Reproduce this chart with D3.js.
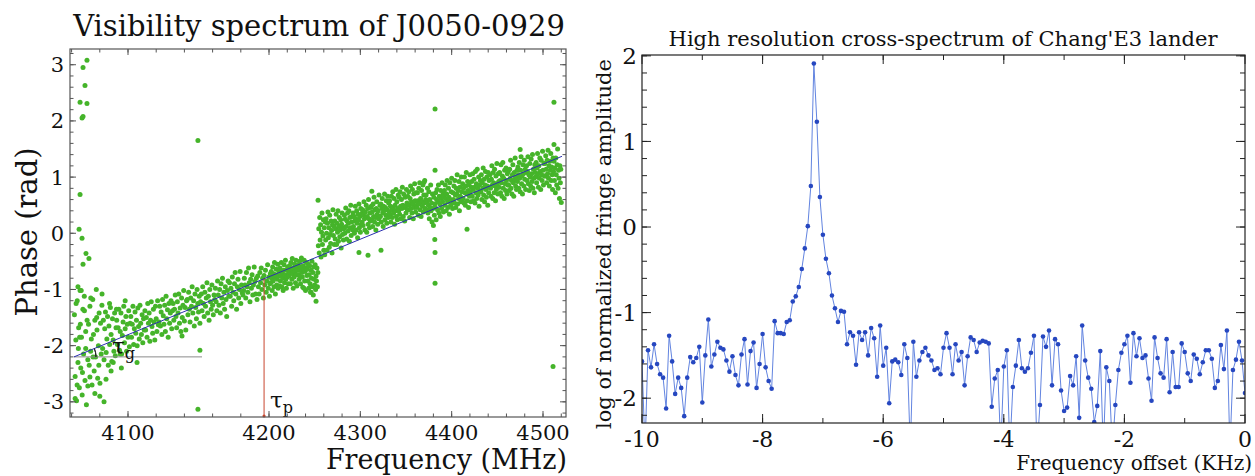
<!DOCTYPE html>
<html>
<head>
<meta charset="utf-8">
<script src="https://cdn.jsdelivr.net/npm/d3@7"></script>
<style>
  body { margin: 0; background: #ffffff; }
  svg { display: block; }
  text { font-family: "DejaVu Serif", serif; fill: #111; }
</style>
</head>
<body>
<div id="container"></div>
<script>
let w = 1255;
let h = 476;

// LEFT PANEL DATA
// visibility phase (rad), one value per 0.5 MHz channel starting at 4062 MHz
let channelStartMHz = 4062;
let channelStepMHz = 0.5;
let phaseRows = [
  [-1.45,-2.55,-1.90,-2.98,-1.20,-2.30,-1.68,-2.75,-1.02,-2.40,-1.85,-2.88,-1.35,-2.15,-1.12,-2.62,-1.75,-3.05,-1.55,-2.25],
  [-1.62,-2.35,-1.30,-2.10,-1.88,-2.70,-1.18,-1.80,-2.45,-1.55,-2.20,-1.00,-1.72,-2.58,-2.00,-1.42,-2.90,-1.60,-2.15,-1.28],
  [-2.05,-1.55,-2.25,-1.70,-1.40,-2.12,-1.88,-1.48,-2.35,-1.65,-1.98,-1.32,-1.80,-2.28,-1.52,-1.90,-2.10,-1.42,-2.18,-1.68],
  [-1.55,-1.98,-1.68,-1.35,-2.08,-1.75,-1.42,-2.15,-1.82,-1.58,-1.30,-1.95,-1.70,-1.48,-2.10,-1.62,-1.85,-1.38,-2.02,-1.60],
  [-1.48,-1.85,-1.62,-1.30,-1.98,-1.70,-1.40,-1.78,-1.55,-2.00,-1.33,-1.66,-1.88,-1.28,-1.60,-1.80,-1.45,-1.95,-1.52,-1.72],
  [-1.38,-1.72,-1.50,-1.85,-1.25,-1.60,-1.42,-1.92,-1.55,-1.22,-1.66,-1.78,-1.35,-1.58,-1.90,-1.30,-1.52,-1.75,-1.20,-1.63],
  [-1.58,-1.30,-1.65,-1.40,-1.80,-1.18,-1.47,-1.62,-1.28,-1.75,-1.12,-1.52,-1.36,-1.85,-1.25,-1.60,-1.42,-1.20,-1.70,-1.38],
  [-1.25,-1.55,-1.35,-1.10,-1.48,-1.68,-1.22,-1.42,-1.08,-1.60,-1.33,-1.75,-1.15,-1.50,-1.28,-1.02,-1.56,-1.32,-1.72,-1.20],
  [-1.18,-1.45,-1.05,-1.35,-1.58,-1.15,-1.30,-0.95,-1.42,-1.20,-1.65,-1.08,-1.32,-1.52,-1.00,-1.25,-1.40,-1.12,-1.60,-1.22],
  [-1.08,-1.38,-0.95,-1.25,-1.48,-1.05,-1.30,-1.15,-0.88,-1.42,-1.12,-1.55,-1.00,-1.22,-1.35,-0.92,-1.28,-1.45,-1.10,-1.18],
  [-0.98,-1.22,-1.38,-0.85,-1.10,-1.28,-1.00,-1.42,-0.90,-1.15,-0.80,-1.25,-1.05,-1.35,-0.95,-1.18,-1.48,-1.02,-0.85,-1.12],
  [-0.88,-1.12,-0.98,-1.30,-0.78,-1.05,-1.20,-0.90,-0.70,-1.08,-1.35,-0.95,-0.82,-1.15,-1.00,-0.68,-1.25,-0.92,-1.06,-1.10],
  [-1.02,-0.80,-0.92,-1.15,-0.70,-0.95,-1.05,-0.62,-0.88,-1.22,-0.82,-0.98,-0.74,-1.10,-0.92,-0.60,-0.86,-1.08,-0.80,-1.18],
  [-0.76,-0.95,-1.08,-0.70,-0.88,-0.62,-1.00,-0.80,-1.15,-0.75,-0.92,-0.66,-1.05,-0.85,-0.56,-0.98,-0.78,-1.12,-0.90,-0.72],
  [-0.88,-0.68,-0.80,-1.02,-0.60,-0.85,-0.72,-0.95,-0.52,-0.78,-1.08,-0.74,-0.64,-0.92,-0.82,-0.55,-0.98,-0.76,-0.68,-0.94],
  [-0.62,-0.85,-0.75,-0.52,-0.95,-0.70,-0.80,-1.02,-0.66,-0.56,-0.88,-0.74,-0.48,-0.82,-0.98,-0.65,-0.78,-0.60,-0.90,-0.70],
  [-0.76,-0.58,-0.70,-0.90,-0.52,-0.65,-0.82,-0.45,-0.72,-0.98,-0.62,-0.78,-0.55,-0.68,-0.88,-0.48,-0.74,-0.94,-0.60,-0.66],
  [-0.56,-0.74,-0.82,-0.50,-0.66,-0.90,-0.60,-0.44,-0.70,-0.78,-0.96,-0.58,-0.66,-0.48,-0.85,-0.68,-1.02,-0.62,-0.52,-0.75],
  [-0.64,-0.85,-0.55,-0.98,-0.74,-0.58,-0.90,-1.05,-0.66,-0.80,-0.50,-0.95,-0.70,-1.10,-0.60,-0.82,-0.92,-0.56,-1.00,-0.76],
  [-0.85,-0.62,-0.95,-0.70,-0.22,0.08,-0.35,0.28,-0.12,0.15,-0.42,0.02,0.36,-0.20,-0.05,0.24,-0.30,0.10,-0.38,0.20],
  [-0.12,0.26,0.00,-0.30,0.18,0.38,-0.08,0.10,-0.25,0.32,-0.02,-0.18,0.22,0.05,-0.35,0.15,0.42,-0.04,0.12,-0.20],
  [0.22,-0.10,0.08,0.34,-0.20,0.18,0.02,0.40,-0.14,0.12,0.28,-0.06,0.06,0.24,-0.26,0.16,0.36,-0.02,0.10,-0.12],
  [0.08,0.32,0.00,0.25,0.45,0.12,-0.10,0.22,0.36,0.04,0.18,0.40,-0.14,0.28,0.10,0.50,-0.04,0.20,0.30,0.06],
  [0.36,0.12,0.30,0.00,0.22,0.48,0.26,0.06,0.40,0.18,-0.08,0.34,0.24,0.52,0.10,0.30,0.02,0.44,0.16,0.35],
  [0.20,0.42,0.14,0.32,0.56,0.26,0.06,0.38,0.28,0.50,0.02,0.30,0.44,0.16,0.60,0.26,0.10,0.36,0.22,0.46],
  [0.48,0.24,0.38,0.12,0.52,0.30,0.64,0.20,0.42,0.28,0.06,0.44,0.56,0.34,0.16,0.40,0.26,0.68,0.30,0.50],
  [0.30,0.52,0.20,0.44,0.62,0.36,0.12,0.48,0.40,0.70,0.24,0.46,0.32,0.58,0.18,0.42,0.66,0.28,0.54,0.38],
  [0.58,0.34,0.48,0.20,0.66,0.42,0.28,0.74,0.46,0.36,0.62,0.16,0.50,0.40,0.78,0.30,0.56,0.24,0.44,0.68],
  [0.40,0.64,0.34,0.74,0.48,0.26,0.60,0.44,0.82,0.50,0.30,0.70,0.46,0.22,0.64,0.48,0.36,0.78,0.54,0.42],
  [0.66,0.42,0.74,0.50,0.28,0.62,0.84,0.44,0.56,0.36,0.78,0.52,0.26,0.70,0.46,0.88,0.58,0.38,0.72,0.50],
  [0.46,0.72,0.58,0.32,0.80,0.52,0.90,0.42,0.62,0.30,0.76,0.56,0.48,0.86,0.38,0.68,0.54,0.94,0.44,0.60],
  [0.68,0.42,0.56,0.80,0.36,0.50,0.74,0.26,0.60,0.46,0.86,0.40,0.54,0.20,0.70,0.44,0.14,0.64,0.32,0.52],
  [0.46,0.72,0.24,0.60,0.78,0.42,0.56,0.86,0.36,0.66,0.52,0.30,0.76,0.62,0.44,0.90,0.56,0.70,0.38,0.64],
  [0.76,0.50,0.86,0.62,0.40,0.70,0.94,0.56,0.46,0.80,0.64,0.34,0.90,0.60,0.50,0.74,0.98,0.58,0.44,0.72],
  [0.60,0.84,0.54,0.94,0.68,0.46,0.80,0.70,1.04,0.52,0.76,0.62,0.92,0.40,0.82,0.66,0.56,1.00,0.74,0.58],
  [0.88,0.62,0.80,0.54,1.00,0.72,0.50,0.84,1.08,0.70,0.58,0.92,0.76,0.46,0.86,0.66,1.04,0.74,0.56,0.82],
  [0.92,0.66,1.06,0.78,0.58,0.96,0.82,0.54,1.10,0.72,0.88,0.62,1.14,0.80,0.68,1.00,0.48,0.86,0.74,0.94],
  [0.74,1.04,0.60,0.90,0.80,1.16,0.68,0.96,0.56,0.86,1.10,0.78,0.64,1.00,0.84,0.50,1.08,0.72,0.94,0.82],
  [1.04,0.80,0.66,0.96,1.20,0.86,0.62,1.08,0.90,0.72,1.14,0.84,0.58,1.02,0.78,1.24,0.88,0.70,1.06,0.92],
  [0.82,1.08,0.94,0.72,1.22,0.90,0.66,1.02,1.26,0.80,0.98,0.62,1.12,0.88,0.76,1.16,0.94,0.70,1.06,0.86],
  [1.10,0.86,0.76,1.14,0.98,1.30,0.80,0.94,0.70,1.04,1.22,0.90,0.66,1.08,0.96,1.34,0.84,1.00,0.78,1.12],
  [0.92,1.18,1.04,0.80,1.26,0.98,0.74,1.12,1.36,0.88,1.02,0.70,1.22,1.06,0.84,1.30,0.96,1.14,0.78,1.08],
  [1.20,0.94,1.10,1.36,0.88,1.04,0.76,1.24,1.00,0.84,1.32,1.06,0.92,1.40,0.80,1.14,0.98,0.72,1.22,1.08],
  [1.00,1.26,0.90,1.16,1.42,1.06,0.82,1.20,0.98,1.34,1.10,0.78,1.30,1.04,0.94,1.46,1.12,0.86,1.24,1.02],
  [1.24,1.02,1.38,1.14,0.90,1.30,1.06,1.48,0.98,1.20,0.84,1.28,1.12,1.42,0.94,1.18,1.04,0.78,1.34,1.10],
  [1.28,0.94,1.16,0.72,1.34,1.04,0.86,1.22,1.50,0.80,1.12,0.98,0.62,1.20,0.90,1.14,0.55]
];
let phase = phaseRows.flat();
// scattered points off the main band: [MHz, rad]
let outliers = [
  [4070.9,3.08],[4068.1,2.95],[4069.5,2.63],[4066.0,2.33],[4070.9,2.31],[4067.4,2.05],[4068.1,2.08],
  [4066.0,0.69],[4065.3,0.07],[4067.4,-0.09],[4070.2,-0.36],[4072.3,-0.45],[4068.1,-0.55],[4064.5,-0.95],
  [4066.8,-1.02],[4149.6,1.65],[4149.6,-3.13],[4381.8,2.21],[4381.8,1.12],[4381.5,-0.11],[4381.8,-0.34],
  [4381.8,-0.89],[4512.0,2.33],[4511.0,-2.37],[4512.0,1.58],[4253.7,0.59],[4475.0,1.49],[4369.7,0.91],
  [4312.6,0.75],[4251.5,-1.21],[4416.8,0.07],[4322.6,-0.30],[4308.4,-0.39],[4298.5,-0.34],[4151.0,-2.08],
  [4138.3,-1.83],[4106.4,-2.30],[4080.1,-2.67],[4073.0,-2.56],[4076.5,-2.85],[4062.5,-2.94],[4083.0,-3.00],
  [4088.0,-2.45],[4094.5,-2.15],[4238.3,-0.98],[4246.0,-1.05],
  [4063.2,-1.25],[4064.8,-2.05],[4066.2,-1.62],[4067.7,-2.48],[4069.1,-1.38],[4071.5,-2.72],[4073.6,-1.15],
  [4075.2,-2.20],[4077.8,-1.50],[4079.3,-2.35],[4081.6,-1.08],[4084.4,-2.60],[4086.9,-1.25],[4089.5,-2.30],
  [4091.8,-1.35],[4095.3,-2.40],[4098.0,-1.20],[4063.9,-2.70],[4065.7,-1.85],[4070.0,-2.05]
];
let fitStart = [4061.7, -2.2];
let fitEnd = [4520.8, 1.37];
let tauGEndMHz = 4152.5;
let tauPMHz = 4196.5;
let freqTicks = [4100, 4200, 4300, 4400, 4500];
let freqMinor = d3.range(4060, 4521, 20);
let phaseTicks = [-3, -2, -1, 0, 1, 2, 3];
let phaseMinor = d3.range(-16, 17).map(d => d / 5);

// RIGHT PANEL DATA
// log normalized fringe amplitude, one value per 0.05 KHz bin from -10 KHz
let offsetStartKHz = -10;
let offsetStepKHz = 0.05;
let logAmp = [
  -1.57,-2.6,-1.44,-1.64,-1.37,-1.60,-1.72,-1.76,-2.12,-1.27,
  -1.57,-1.95,-1.76,-1.88,-2.21,-1.76,-1.52,-1.58,-1.53,-1.40,
  -2.05,-1.50,-1.08,-1.63,-1.49,-1.34,-1.41,-1.43,-1.56,-1.69,
  -1.51,-1.73,-1.85,-1.49,-1.31,-1.84,-1.45,-1.35,-1.88,-1.60,
  -1.25,-1.64,-1.80,-1.89,-1.10,-1.24,-1.24,-1.25,-1.11,-1.09,
  -0.87,-0.81,-0.70,-0.49,-0.25,0.01,0.48,1.91,1.23,0.35,
  -0.09,-0.37,-0.54,-0.80,-0.95,-1.11,-0.98,-0.99,-1.37,-1.23,
  -1.27,-1.61,-1.23,-1.32,-1.23,-1.50,-1.18,-1.30,-1.75,-1.15,
  -1.62,-1.41,-2.06,-1.57,-1.55,-1.58,-1.73,-1.37,-1.53,-2.6,
  -1.34,-1.75,-1.56,-1.46,-1.41,-1.50,-1.56,-1.67,-1.65,-1.72,
  -1.41,-1.24,-1.41,-1.72,-1.37,-1.56,-1.46,-1.85,-1.51,-1.29,
  -1.32,-1.46,-1.35,-1.33,-1.34,-1.36,-2.10,-1.77,-1.67,-2.6,
  -1.63,-1.44,-2.6,-1.87,-1.62,-1.32,-1.65,-1.69,-1.65,-1.47,
  -1.27,-2.6,-2.08,-1.28,-1.40,-1.21,-1.85,-1.31,-1.37,-1.91,
  -2.15,-2.11,-1.74,-1.85,-1.51,-2.23,-1.15,-1.56,-1.76,-1.89,
  -2.28,-2.09,-1.45,-2.6,-1.64,-1.80,-2.6,-2.08,-1.67,-1.47,
  -1.37,-1.27,-1.82,-1.24,-1.51,-1.30,-1.53,-1.50,-1.77,-2.03,
  -1.29,-1.53,-1.71,-1.76,-1.31,-1.93,-1.46,-1.87,-1.87,-1.36,
  -1.46,-1.71,-1.80,-1.49,-1.54,-1.72,-1.58,-1.44,-1.44,-1.54,
  -1.88,-1.80,-1.38,-1.66,-1.21,-2.6,-1.67,-1.55,-1.34,-1.56,
  -1.94
];
let offsetTicks = [-10, -8, -6, -4, -2, 0];
let offsetMinor = d3.range(-10, 1);
let ampTicks = [-2, -1, 0, 1, 2];
let ampMinor = d3.range(-11, 11).map(d => d / 5);

// SVG
let viz = d3.select("#container").append("svg")
    .attr("width", w)
    .attr("height", h)
    .style("background-color", "#ffffff");

// ticks drawn inside the frame on all four sides
function frame(g, box, xs, xMajor, xMin, ys, yMajor, yMin, len, color) {
  let segs = [];
  xMin.forEach(v => { let p = xs(v); if (p > box.l + 0.5 && p < box.r - 0.5) { segs.push([p, box.b, p, box.b - len[1]], [p, box.t, p, box.t + len[1]]); } });
  xMajor.forEach(v => { let p = xs(v); segs.push([p, box.b, p, box.b - len[0]], [p, box.t, p, box.t + len[0]]); });
  yMin.forEach(v => { let p = ys(v); if (p > box.t + 0.5 && p < box.b - 0.5) { segs.push([box.l, p, box.l + len[1], p], [box.r, p, box.r - len[1], p]); } });
  yMajor.forEach(v => { let p = ys(v); segs.push([box.l, p, box.l + len[0], p], [box.r, p, box.r - len[0], p]); });
  g.selectAll(".tk").data(segs).join("line").attr("class", "tk")
    .attr("x1", d => d[0]).attr("y1", d => d[1]).attr("x2", d => d[2]).attr("y2", d => d[3])
    .attr("stroke", color).attr("stroke-width", 1);
  g.append("rect").attr("x", box.l).attr("y", box.t)
    .attr("width", box.r - box.l).attr("height", box.b - box.t)
    .attr("fill", "none").attr("stroke", color).attr("stroke-width", 1.2);
}

// ---------- LEFT: visibility phase ----------
let boxL = {l: 70, r: 566, t: 49, b: 417};
let xL = d3.scaleLinear().domain([4100, 4200, 4500]).range([128, 269, 543]);
let yL = d3.scaleLinear().domain([-3.27, 3.28]).range([boxL.b, boxL.t]);
let gL = viz.append("g");

let bandPts = phase.map((p, i) => [channelStartMHz + i * channelStepMHz, p]);
let allPts = bandPts.concat(outliers);

gL.append("g").selectAll("circle").data(allPts).join("circle")
    .attr("cx", d => xL(d[0]))
    .attr("cy", d => yL(d[1]))
    .attr("r", 2.5)
    .attr("fill", "#45b42a");

// horizontal reference for tau_g
gL.append("line")
    .attr("x1", xL(fitStart[0])).attr("y1", yL(fitStart[1]))
    .attr("x2", xL(tauGEndMHz)).attr("y2", yL(fitStart[1]))
    .attr("stroke", "#8a8a8a").attr("stroke-width", 1);

// fitted phase slope
gL.append("line")
    .attr("x1", xL(fitStart[0])).attr("y1", yL(fitStart[1]))
    .attr("x2", xL(fitEnd[0])).attr("y2", yL(fitEnd[1]))
    .attr("stroke", "#2b2fb0").attr("stroke-width", 1);

// angle mark
let sx = xL(fitStart[0]), sy = yL(fitStart[1]);
let ang = Math.atan2(sy - yL(fitEnd[1]), xL(fitEnd[0]) - sx);
gL.append("path")
    .attr("transform", `translate(${sx},${sy})`)
    .attr("d", d3.arc().innerRadius(22).outerRadius(22).startAngle(Math.PI / 2 - ang).endAngle(Math.PI / 2)())
    .attr("fill", "none").attr("stroke", "#222").attr("stroke-width", 1);

// tau_p marker
let px = xL(tauPMHz);
let t = (px - sx) / (xL(fitEnd[0]) - sx);
let pyTop = sy + t * (yL(fitEnd[1]) - sy);
gL.append("line")
    .attr("x1", px).attr("y1", pyTop).attr("x2", px).attr("y2", boxL.b)
    .attr("stroke", "#c8462e").attr("stroke-width", 1);
gL.append("circle").attr("cx", px).attr("cy", boxL.b - 1).attr("r", 1.6).attr("fill", "#c8462e");

let tg = gL.append("text").attr("x", sx + 38).attr("y", sy - 3).style("font-size", "23px").text("τ");
tg.append("tspan").attr("dy", 5).style("font-size", "16px").text("g");
let tp = gL.append("text").attr("x", px + 6).attr("y", boxL.b - 9).style("font-size", "23px").text("τ");
tp.append("tspan").attr("dy", 5).style("font-size", "16px").text("p");

frame(gL, boxL, xL, freqTicks, freqMinor, yL, phaseTicks, phaseMinor, [6, 3.5], "#555555");

gL.selectAll(".xl").data(freqTicks).join("text").attr("class", "xl")
    .attr("x", d => xL(d)).attr("y", 440)
    .attr("text-anchor", "middle").style("font-size", "21px").text(d => d);
gL.selectAll(".yl").data(phaseTicks).join("text").attr("class", "yl")
    .attr("x", 64).attr("y", d => yL(d)).attr("dy", "0.36em")
    .attr("text-anchor", "end").style("font-size", "21px").text(d => d);

gL.append("text").attr("x", 319).attr("y", 36).attr("text-anchor", "middle")
    .style("font-size", "29px").text("Visibility spectrum of J0050-0929");
gL.append("text").attr("x", 567).attr("y", 469).attr("text-anchor", "end")
    .style("font-size", "27px").text("Frequency (MHz)");
gL.append("text").attr("transform", "translate(37,232) rotate(-90)").attr("text-anchor", "middle")
    .style("font-size", "29px").text("Phase (rad)");

// ---------- RIGHT: cross-spectrum ----------
let boxR = {l: 642, r: 1245, t: 55, b: 423};
let xR = d3.scaleLinear().domain([-10, 0]).range([boxR.l, boxR.r]);
let yR = d3.scaleLinear().domain([-2.29, 2.01]).range([boxR.b, boxR.t]);
let gR = viz.append("g");

viz.append("clipPath").attr("id", "clipR").append("rect")
    .attr("x", boxR.l).attr("y", boxR.t).attr("width", boxR.r - boxR.l).attr("height", boxR.b - boxR.t);

let spec = logAmp.map((v, i) => [offsetStartKHz + i * offsetStepKHz, v]);
let line = d3.line().x(d => xR(d[0])).y(d => yR(d[1]));
let plot = gR.append("g").attr("clip-path", "url(#clipR)");
plot.append("path").datum(spec).attr("d", line)
    .attr("fill", "none").attr("stroke", "#6284e0").attr("stroke-width", 1);
plot.selectAll("circle").data(spec).join("circle")
    .attr("cx", d => xR(d[0])).attr("cy", d => yR(d[1]))
    .attr("r", 2.3).attr("fill", "#2647c0");

frame(gR, boxR, xR, offsetTicks, offsetMinor, yR, ampTicks, ampMinor, [9, 5], "#222222");

gR.selectAll(".xl").data(offsetTicks).join("text").attr("class", "xl")
    .attr("x", d => xR(d)).attr("y", 447)
    .attr("text-anchor", "middle").style("font-size", "22px").text(d => d);
gR.selectAll(".yl").data(ampTicks).join("text").attr("class", "yl")
    .attr("x", 637).attr("y", d => yR(d)).attr("dy", "0.36em")
    .attr("text-anchor", "end").style("font-size", "23px").text(d => d);

gR.append("text").attr("x", 943).attr("y", 46).attr("text-anchor", "middle")
    .style("font-size", "21px").text("High resolution cross-spectrum of Chang'E3 lander");
gR.append("text").attr("x", 1252).attr("y", 470).attr("text-anchor", "end")
    .style("font-size", "20px").text("Frequency offset (KHz)");
gR.append("text").attr("transform", "translate(611,244) rotate(-90)").attr("text-anchor", "middle")
    .style("font-size", "21px").text("log of normalized fringe amplitude");
</script>
</body>
</html>
